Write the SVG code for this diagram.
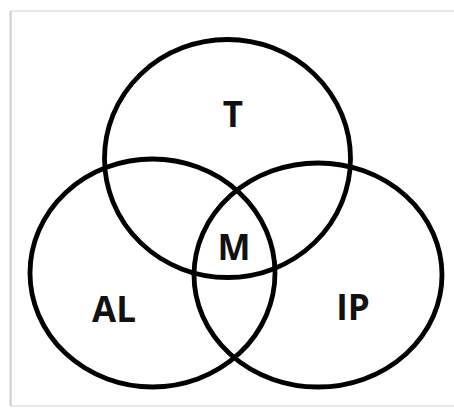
<svg xmlns="http://www.w3.org/2000/svg" width="454" height="412" viewBox="0 0 454 412">
  <style>
    .ring { fill: none; stroke: #000; stroke-width: 4.8; }
    .lbl { font-family: "Open Sans", "Liberation Sans", Arial, sans-serif; font-weight: bold; font-size: 35px; fill: #111; text-anchor: middle; }
  </style>
  <rect width="454" height="412" fill="#fff"/>
  <!-- page frame -->
  <rect x="11" y="11" width="460" height="395" fill="#fff" stroke="#e2e2e2" stroke-width="1.5"/>
  <line x1="10.5" y1="11" x2="10.5" y2="406" stroke="#cfcfcf" stroke-width="2"/>
  <g id="T">
    <ellipse class="ring" cx="227.5" cy="158.5" rx="123" ry="119"/>
    <text class="lbl" x="233" y="127">T</text>
  </g>
  <g id="AL">
    <ellipse class="ring" cx="152.5" cy="273" rx="122.5" ry="114"/>
    <text class="lbl" x="114" y="322">AL</text>
  </g>
  <g id="IP">
    <ellipse class="ring" cx="318" cy="275" rx="124" ry="112"/>
    <text class="lbl" x="353" y="320">IP</text>
  </g>
  <g id="M">
    <text class="lbl" x="234" y="260">M</text>
  </g>
  <g id="connectors"/>
</svg>
